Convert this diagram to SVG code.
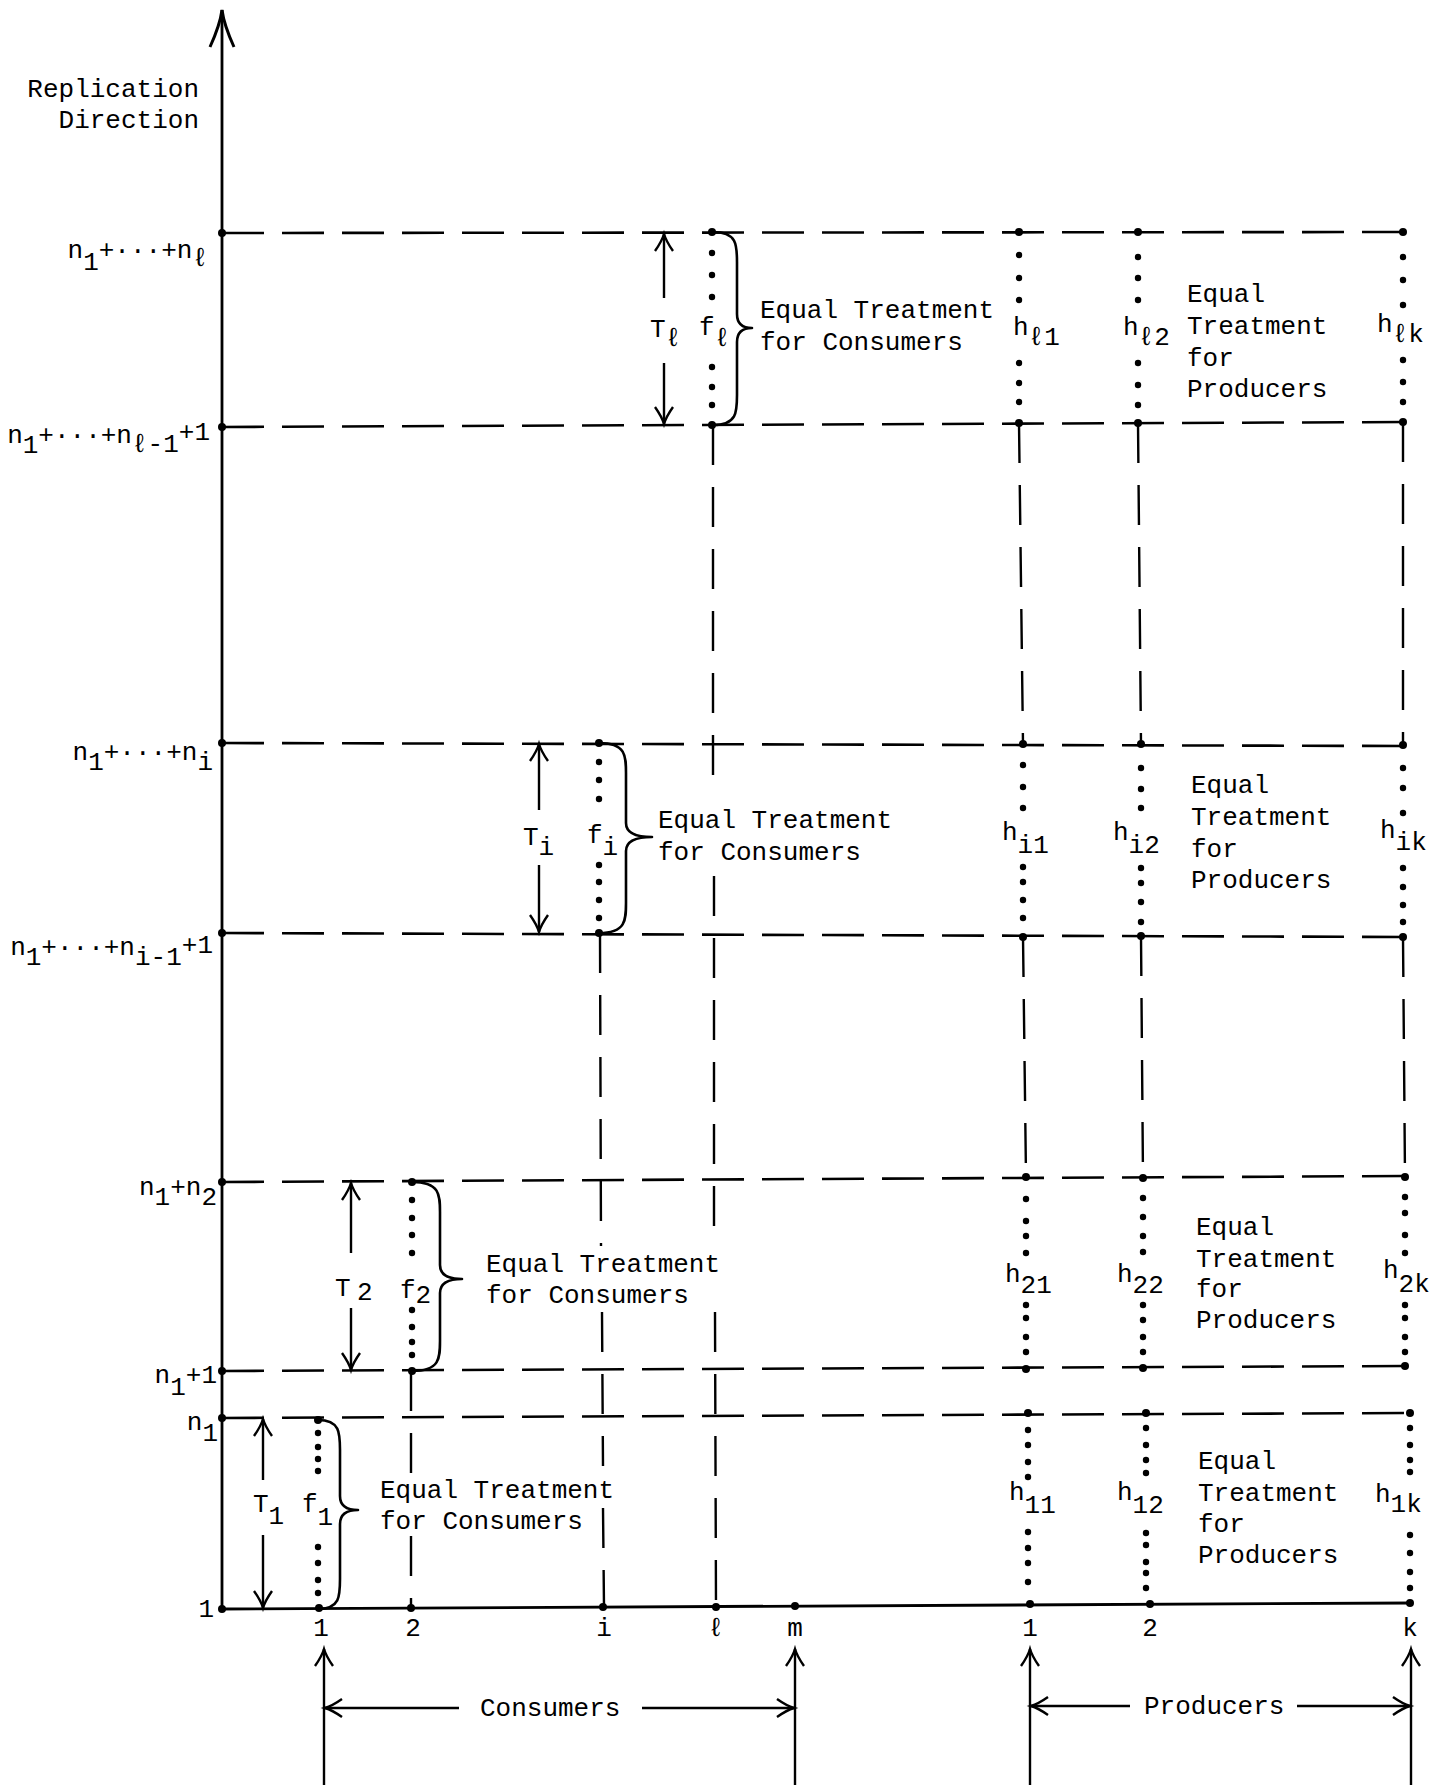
<svg xmlns="http://www.w3.org/2000/svg" width="1449" height="1785" viewBox="0 0 1449 1785">
<style>
text { font-family: "Liberation Mono", "DejaVu Sans Mono", monospace; font-size: 26px; fill: #000; }
.ln { stroke: #000; stroke-width: 2.8; fill: none; }
.dh { stroke: #000; stroke-width: 2.6; stroke-dasharray: 42 18; fill: none; }
.dv { stroke: #000; stroke-width: 2.4; stroke-dasharray: 40 22; fill: none; }
.br { stroke: #000; stroke-width: 2.6; fill: none; stroke-linejoin: round; }
.ar { stroke: #000; stroke-width: 2.4; fill: none; }
</style>
<defs>
<circle id="d" r="3.2"/>
<circle id="e" r="4"/>
<marker id="ah" markerUnits="userSpaceOnUse" markerWidth="20" markerHeight="20" refX="0" refY="0" orient="auto-start-reverse" style="overflow:visible">
<path d="M-17,-9 Q-7,-2 0,0 Q-7,2 -17,9" stroke="#000" stroke-width="2.4" fill="none"/>
</marker>
<marker id="ahb" markerUnits="userSpaceOnUse" markerWidth="40" markerHeight="30" refX="0" refY="0" orient="auto" style="overflow:visible">
<path d="M-37,-12 Q-15,-2 0,0 Q-15,2 -37,12" stroke="#000" stroke-width="3" fill="none"/>
</marker>
</defs>
<rect width="1449" height="1785" fill="#fff"/>

<g id="connectors">
<!-- axes -->
<line class="ln" x1="222" y1="1609" x2="222" y2="10" marker-end="url(#ahb)"/>
<line class="ln" x1="222" y1="1609" x2="1412" y2="1603"/>
<!-- horizontal dashed levels -->
<line class="dh" x1="222" y1="233" x2="1405" y2="232"/>
<line class="dh" x1="222" y1="427" x2="1405" y2="422"/>
<line class="dh" x1="222" y1="743" x2="1405" y2="746"/>
<line class="dh" x1="222" y1="933" x2="1405" y2="937"/>
<line class="dh" x1="222" y1="1182" x2="1407" y2="1176"/>
<line class="dh" x1="222" y1="1371" x2="1407" y2="1366"/>
<line class="dh" x1="222" y1="1418" x2="1410" y2="1413"/>
<!-- consumer verticals -->
<line class="dv" x1="713" y1="425" x2="713" y2="790"/>
<line class="dv" x1="714" y1="876" x2="714" y2="1246"/>
<line class="dv" x1="715" y1="1312" x2="716" y2="1607"/>
<line class="dv" x1="600" y1="933" x2="601" y2="1246"/>
<line class="dv" x1="602" y1="1312" x2="603" y2="1466"/>
<line class="dv" x1="603" y1="1508" x2="604" y2="1607"/>
<line class="dv" x1="411" y1="1371" x2="411" y2="1477"/>
<line class="dv" x1="411" y1="1536" x2="411" y2="1608"/>
<!-- producer verticals -->
<line class="dv" x1="1019" y1="423" x2="1023" y2="744"/>
<line class="dv" x1="1023" y1="937" x2="1026" y2="1177"/>
<line class="dv" x1="1138" y1="423" x2="1141" y2="744"/>
<line class="dv" x1="1141" y1="936" x2="1143" y2="1178"/>
<line class="dv" x1="1403" y1="422" x2="1403" y2="745"/>
<line class="dv" x1="1403" y1="937" x2="1405" y2="1177"/>
<!-- T arrows -->
<line class="ar" x1="664" y1="298" x2="664" y2="234" marker-end="url(#ah)"/>
<line class="ar" x1="664" y1="363" x2="664" y2="424" marker-end="url(#ah)"/>
<line class="ar" x1="539" y1="810" x2="539" y2="744" marker-end="url(#ah)"/>
<line class="ar" x1="539" y1="865" x2="539" y2="932" marker-end="url(#ah)"/>
<line class="ar" x1="351" y1="1253" x2="351" y2="1183" marker-end="url(#ah)"/>
<line class="ar" x1="351" y1="1308" x2="351" y2="1370" marker-end="url(#ah)"/>
<line class="ar" x1="263" y1="1480" x2="263" y2="1419" marker-end="url(#ah)"/>
<line class="ar" x1="263" y1="1535" x2="263" y2="1608" marker-end="url(#ah)"/>
<!-- braces -->
<path class="br" d="M713,232 C737,232 737,245 737,262 L737,314 Q737,328 752,328 Q737,328 737,342 L737,395 C737,412 737,425 713,425"/>
<path class="br" d="M599,743 C626,743 626,756 626,773 L626,823 Q626,837 652,837 Q626,837 626,851 L626,903 C626,920 626,933 599,933"/>
<path class="br" d="M412,1182 C440,1182 440,1195 440,1212 L440,1265 Q440,1279 462,1279 Q440,1279 440,1293 L440,1341 C440,1358 440,1371 412,1371"/>
<path class="br" d="M318,1420 C340,1420 340,1433 340,1450 L340,1496 Q340,1510 358,1510 Q340,1510 340,1524 L340,1579 C340,1596 340,1609 318,1609"/>
<!-- bottom group arrows -->
<line class="ar" x1="324" y1="1785" x2="324" y2="1649" marker-end="url(#ah)"/>
<line class="ar" x1="795" y1="1785" x2="795" y2="1649" marker-end="url(#ah)"/>
<line class="ar" x1="1030" y1="1785" x2="1030" y2="1649" marker-end="url(#ah)"/>
<line class="ar" x1="1411" y1="1785" x2="1411" y2="1649" marker-end="url(#ah)"/>
<line class="ar" x1="459" y1="1708" x2="325" y2="1708" marker-end="url(#ah)"/>
<line class="ar" x1="642" y1="1708" x2="794" y2="1708" marker-end="url(#ah)"/>
<line class="ar" x1="1130" y1="1706" x2="1031" y2="1706" marker-end="url(#ah)"/>
<line class="ar" x1="1297" y1="1706" x2="1410" y2="1706" marker-end="url(#ah)"/>
</g>

<g id="axis-labels">
<text x="199" y="97" text-anchor="end">Replication</text>
<text x="199" y="128" text-anchor="end">Direction</text>
<text x="208" y="258" text-anchor="end">n<tspan dy="12">1</tspan><tspan dy="-12">+···+n</tspan><tspan dy="8">ℓ</tspan></text>
<text x="210" y="443" text-anchor="end">n<tspan dy="10">1</tspan><tspan dy="-10">+···+n</tspan><tspan dy="9">ℓ-1</tspan><tspan dy="-12">+1</tspan></text>
<text x="213" y="760" text-anchor="end">n<tspan dy="10">1</tspan><tspan dy="-10">+···+n</tspan><tspan dy="10">i</tspan></text>
<text x="213" y="955" text-anchor="end">n<tspan dy="10">1</tspan><tspan dy="-10">+···+n</tspan><tspan dy="10">i-1</tspan><tspan dy="-12">+1</tspan></text>
<text x="217" y="1195" text-anchor="end">n<tspan dy="10">1</tspan><tspan dy="-10">+n</tspan><tspan dy="10">2</tspan></text>
<text x="217" y="1383" text-anchor="end">n<tspan dy="12">1</tspan><tspan dy="-12">+1</tspan></text>
<text x="218" y="1430" text-anchor="end">n<tspan dy="11">1</tspan></text>
<text x="214" y="1617" text-anchor="end">1</text>
<use href="#e" x="222" y="233"/>
<use href="#e" x="222" y="427"/>
<use href="#e" x="222" y="743"/>
<use href="#e" x="222" y="933"/>
<use href="#e" x="222" y="1182"/>
<use href="#e" x="222" y="1371"/>
<use href="#e" x="222" y="1418"/>
<use href="#e" x="222" y="1609"/>
</g>

<g id="x-axis-labels">
<g text-anchor="middle">
<text x="321" y="1636">1</text>
<text x="413" y="1636">2</text>
<text x="604" y="1636">i</text>
<text x="716" y="1636">ℓ</text>
<text x="795" y="1636">m</text>
<text x="1030" y="1636">1</text>
<text x="1150" y="1636">2</text>
<text x="1410" y="1636">k</text>
</g>
<use href="#e" x="319" y="1608"/>
<use href="#e" x="411" y="1608"/>
<use href="#e" x="603" y="1607"/>
<use href="#e" x="716" y="1607"/>
<use href="#e" x="795" y="1606"/>
<use href="#e" x="1030" y="1604"/>
<use href="#e" x="1150" y="1604"/>
<use href="#e" x="1410" y="1603"/>
</g>

<g id="group-labels">
<text x="480" y="1716">Consumers</text>
<text x="1144" y="1714">Producers</text>
</g>

<g id="band-l-consumers">
<text x="650" y="337">T<tspan dy="9">ℓ</tspan></text>
<text x="699" y="335">f<tspan dy="11">ℓ</tspan></text>
<use href="#e" x="712" y="232"/><use href="#d" x="712" y="253"/><use href="#d" x="712" y="275"/><use href="#d" x="712" y="297"/>
<use href="#d" x="712" y="367"/><use href="#d" x="712" y="387"/><use href="#d" x="712" y="405"/><use href="#e" x="712" y="425"/>
<text x="760" y="318">Equal Treatment</text>
<text x="760" y="350">for Consumers</text>
</g>

<g id="band-l-producers">
<use href="#e" x="1019" y="232"/><use href="#d" x="1019" y="255"/><use href="#d" x="1019" y="278"/><use href="#d" x="1019" y="300"/>
<use href="#d" x="1019" y="363"/><use href="#d" x="1019" y="383"/><use href="#d" x="1019" y="402"/><use href="#e" x="1019" y="423"/>
<use href="#e" x="1138" y="232"/><use href="#d" x="1138" y="257"/><use href="#d" x="1138" y="278"/><use href="#d" x="1138" y="300"/>
<use href="#d" x="1138" y="363"/><use href="#d" x="1138" y="385"/><use href="#d" x="1138" y="405"/><use href="#e" x="1138" y="423"/>
<use href="#e" x="1403" y="232"/><use href="#d" x="1403" y="257"/><use href="#d" x="1403" y="280"/><use href="#d" x="1403" y="305"/>
<use href="#d" x="1403" y="360"/><use href="#d" x="1403" y="382"/><use href="#d" x="1403" y="402"/><use href="#e" x="1403" y="422"/>
<text x="1013" y="335">h<tspan dy="10">ℓ1</tspan></text>
<text x="1123" y="335">h<tspan dy="10">ℓ2</tspan></text>
<text x="1377" y="332">h<tspan dy="10">ℓk</tspan></text>
<text x="1187" y="302">Equal</text>
<text x="1187" y="334">Treatment</text>
<text x="1187" y="366">for</text>
<text x="1187" y="397">Producers</text>
</g>

<g id="band-i-consumers">
<text x="523" y="845">T<tspan dy="10">i</tspan></text>
<text x="587" y="843">f<tspan dy="12">i</tspan></text>
<use href="#e" x="599" y="743"/><use href="#d" x="599" y="762"/><use href="#d" x="599" y="780"/><use href="#d" x="599" y="799"/>
<use href="#d" x="599" y="865"/><use href="#d" x="599" y="882"/><use href="#d" x="599" y="900"/><use href="#d" x="599" y="918"/><use href="#e" x="599" y="933"/>
<text x="658" y="828">Equal Treatment</text>
<text x="658" y="860">for Consumers</text>
</g>

<g id="band-i-producers">
<use href="#e" x="1023" y="744"/><use href="#d" x="1023" y="765"/><use href="#d" x="1023" y="787"/><use href="#d" x="1023" y="808"/>
<use href="#d" x="1023" y="867"/><use href="#d" x="1023" y="882"/><use href="#d" x="1023" y="900"/><use href="#d" x="1023" y="918"/><use href="#e" x="1023" y="937"/>
<use href="#e" x="1141" y="744"/><use href="#d" x="1141" y="768"/><use href="#d" x="1141" y="789"/><use href="#d" x="1141" y="808"/>
<use href="#d" x="1141" y="868"/><use href="#d" x="1141" y="883"/><use href="#d" x="1141" y="902"/><use href="#d" x="1141" y="922"/><use href="#e" x="1141" y="936"/>
<use href="#e" x="1403" y="745"/><use href="#d" x="1403" y="768"/><use href="#d" x="1403" y="788"/><use href="#d" x="1403" y="813"/>
<use href="#d" x="1403" y="868"/><use href="#d" x="1403" y="887"/><use href="#d" x="1403" y="905"/><use href="#d" x="1403" y="922"/><use href="#e" x="1403" y="937"/>
<text x="1002" y="840">h<tspan dy="13">i1</tspan></text>
<text x="1113" y="840">h<tspan dy="13">i2</tspan></text>
<text x="1380" y="838">h<tspan dy="12">ik</tspan></text>
<text x="1191" y="793">Equal</text>
<text x="1191" y="825">Treatment</text>
<text x="1191" y="857">for</text>
<text x="1191" y="888">Producers</text>
</g>

<g id="band-2-consumers">
<text x="335" y="1296">T</text><text x="357" y="1300">2</text>
<text x="400" y="1298">f<tspan dy="5">2</tspan></text>
<use href="#e" x="412" y="1182"/><use href="#d" x="412" y="1200"/><use href="#d" x="412" y="1218"/><use href="#d" x="412" y="1235"/><use href="#d" x="412" y="1253"/>
<use href="#d" x="412" y="1310"/><use href="#d" x="412" y="1327"/><use href="#d" x="412" y="1342"/><use href="#d" x="412" y="1355"/><use href="#e" x="412" y="1371"/>
<text x="486" y="1272">Equal Treatment</text>
<text x="486" y="1303">for Consumers</text>
</g>

<g id="band-2-producers">
<use href="#e" x="1026" y="1177"/><use href="#d" x="1026" y="1199"/><use href="#d" x="1026" y="1221"/><use href="#d" x="1026" y="1236"/><use href="#d" x="1026" y="1253"/>
<use href="#d" x="1026" y="1305"/><use href="#d" x="1026" y="1318"/><use href="#d" x="1026" y="1337"/><use href="#d" x="1026" y="1352"/><use href="#e" x="1026" y="1369"/>
<use href="#e" x="1143" y="1178"/><use href="#d" x="1143" y="1198"/><use href="#d" x="1143" y="1217"/><use href="#d" x="1143" y="1236"/><use href="#d" x="1143" y="1252"/>
<use href="#d" x="1143" y="1305"/><use href="#d" x="1143" y="1320"/><use href="#d" x="1143" y="1337"/><use href="#d" x="1143" y="1352"/><use href="#e" x="1143" y="1368"/>
<use href="#e" x="1405" y="1177"/><use href="#d" x="1405" y="1197"/><use href="#d" x="1405" y="1213"/><use href="#d" x="1405" y="1235"/><use href="#d" x="1405" y="1253"/>
<use href="#d" x="1405" y="1305"/><use href="#d" x="1405" y="1318"/><use href="#d" x="1405" y="1337"/><use href="#d" x="1405" y="1352"/><use href="#e" x="1405" y="1366"/>
<text x="1005" y="1282">h<tspan dy="11">21</tspan></text>
<text x="1117" y="1282">h<tspan dy="11">22</tspan></text>
<text x="1383" y="1278">h<tspan dy="14">2k</tspan></text>
<text x="1196" y="1235">Equal</text>
<text x="1196" y="1267">Treatment</text>
<text x="1196" y="1297">for</text>
<text x="1196" y="1328">Producers</text>
</g>

<g id="band-1-consumers">
<text x="253" y="1512">T<tspan dy="12">1</tspan></text>
<text x="302" y="1512">f<tspan dy="13">1</tspan></text>
<use href="#e" x="318" y="1420"/><use href="#d" x="318" y="1433"/><use href="#d" x="318" y="1447"/><use href="#d" x="318" y="1459"/><use href="#d" x="318" y="1471"/>
<use href="#d" x="318" y="1547"/><use href="#d" x="318" y="1563"/><use href="#d" x="318" y="1580"/><use href="#d" x="318" y="1593"/>
<text x="380" y="1498">Equal Treatment</text>
<text x="380" y="1529">for Consumers</text>
</g>

<g id="band-1-producers">
<use href="#e" x="1028" y="1413"/><use href="#d" x="1028" y="1430"/><use href="#d" x="1028" y="1445"/><use href="#d" x="1028" y="1462"/><use href="#d" x="1028" y="1477"/>
<use href="#d" x="1028" y="1532"/><use href="#d" x="1028" y="1548"/><use href="#d" x="1028" y="1563"/><use href="#d" x="1028" y="1582"/>
<use href="#e" x="1146" y="1413"/><use href="#d" x="1146" y="1428"/><use href="#d" x="1146" y="1445"/><use href="#d" x="1146" y="1460"/><use href="#d" x="1146" y="1473"/>
<use href="#d" x="1146" y="1533"/><use href="#d" x="1146" y="1545"/><use href="#d" x="1146" y="1562"/><use href="#d" x="1146" y="1573"/><use href="#d" x="1146" y="1588"/>
<use href="#e" x="1410" y="1413"/><use href="#d" x="1410" y="1428"/><use href="#d" x="1410" y="1445"/><use href="#d" x="1410" y="1460"/><use href="#d" x="1410" y="1472"/>
<use href="#d" x="1410" y="1535"/><use href="#d" x="1410" y="1553"/><use href="#d" x="1410" y="1572"/><use href="#d" x="1410" y="1588"/>
<text x="1009" y="1500">h<tspan dy="13">11</tspan></text>
<text x="1117" y="1500">h<tspan dy="13">12</tspan></text>
<text x="1375" y="1502">h<tspan dy="10">1k</tspan></text>
<text x="1198" y="1469">Equal</text>
<text x="1198" y="1501">Treatment</text>
<text x="1198" y="1532">for</text>
<text x="1198" y="1563">Producers</text>
</g>
</svg>
